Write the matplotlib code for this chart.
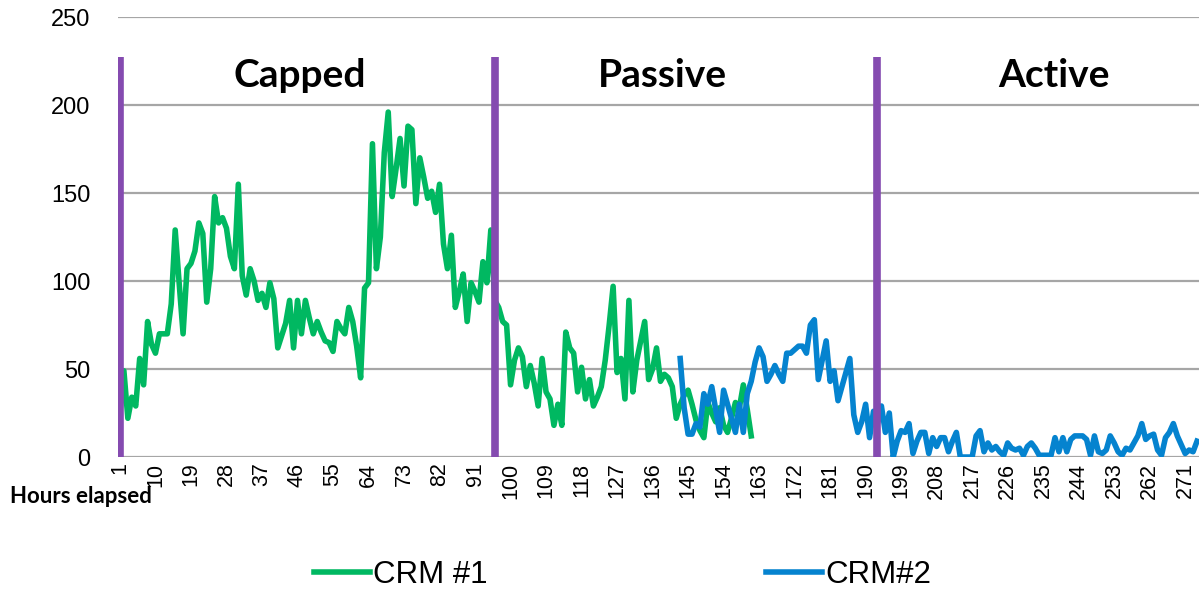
import numpy as np
import matplotlib.pyplot as plt
from matplotlib.lines import Line2D

# hours 1..161
crm1 = [25, 49, 22, 34, 29, 56, 41, 77, 64, 59, 70, 70, 70, 87, 129, 99, 70, 107, 110, 117,
        133, 127, 88, 107, 148, 133, 136, 130, 114, 107, 155, 103, 92, 107, 100, 89, 93, 85, 99, 90,
        62, 69, 76, 89, 62, 89, 70, 89, 79, 70, 77, 71, 66, 65, 60, 77, 73, 70, 85, 77,
        63, 45, 96, 99, 178, 107, 125, 173, 196, 148, 164, 181, 154, 188, 186, 144, 170, 159, 147, 151,
        139, 155, 121, 107, 126, 85, 94, 104, 77, 99, 94, 88, 111, 99, 129, 89, 85, 77, 75, 41,
        55, 62, 57, 40, 52, 42, 29, 56, 37, 33, 18, 30, 18, 71, 62, 59, 37, 51, 33, 44,
        29, 34, 40, 55, 75, 97, 48, 56, 33, 89, 37, 55, 66, 77, 44, 50, 62, 43, 47, 45,
        40, 22, 30, 35, 38, 30, 21, 15, 11, 31, 25, 20, 28, 18, 14, 22, 31, 28, 41, 27,
        12]

# hours 143..274
crm2_start = 143
crm2 = [56, 28, 13, 13, 19, 17, 36, 30, 40, 27, 14, 38, 30, 22, 14, 30, 14, 36, 43, 54,
        62, 57, 43, 47, 52, 47, 43, 59, 59, 61, 63, 63, 59, 75, 78, 44, 55, 66, 43, 49,
        32, 40, 48, 56, 24, 14, 20, 30, 11, 26, 19, 29, 14, 25, 0, 9, 15, 14, 19, 2,
        9, 14, 14, 2, 11, 6, 11, 11, 3, 9, 14, 0, 0, 0, 0, 12, 15, 3, 8, 4,
        6, 3, 1, 8, 5, 4, 5, 1, 6, 8, 5, 1, 1, 1, 1, 11, 3, 11, 3, 10,
        12, 12, 12, 10, 1, 12, 3, 2, 4, 12, 8, 3, 1, 5, 4, 8, 12, 19, 10, 12,
        13, 4, 1, 11, 14, 19, 12, 7, 2, 4, 3, 9]

n_hours = 274
phase_starts = [1, 96, 193]
phase_names = ["Capped", "Passive", "Active"]
phase_label_x = [46.6, 138.5, 237.7]

green = "#00B861"
blue = "#0583CF"
purple = "#854BB0"
grid_c = "#A6A6A6"

fig = plt.figure(figsize=(11.99, 5.93), dpi=100)
ax = fig.add_axes([0.0984, 0.2293, 0.9016, 0.742])

for y in [0, 50, 100, 150, 200, 250]:
    ax.axhline(y, color=grid_c, linewidth=1.6, zorder=1)

x1 = np.arange(1, len(crm1) + 1)
x2 = np.arange(crm2_start, crm2_start + len(crm2))
ax.plot(x1, crm1, color=green, linewidth=4, solid_joinstyle="round", zorder=3)
ax.plot(x2, crm2, color=blue, linewidth=4, solid_joinstyle="round", zorder=4)

ax.vlines(phase_starts, -1.5, 227, color=purple, linewidth=5.5, zorder=5)

for name, xp in zip(phase_names, phase_label_x):
    ax.text(xp, 217, name, ha="center", va="center", fontsize=28,
            fontweight="bold", family="Lato")

ax.set_xlim(0.5, n_hours + 0.5)
ax.set_ylim(0, 250)
ax.set_yticks([0, 50, 100, 150, 200, 250])
xt = np.arange(1, n_hours + 1, 9)
ax.set_xticks(xt)
ax.set_xticklabels([str(v) for v in xt], rotation=90, family="Liberation Sans", fontsize=15.5)
for lab in ax.get_yticklabels():
    lab.set_family("Liberation Sans")
    lab.set_fontsize(17)
ax.tick_params(axis="y", length=0, pad=20)
ax.tick_params(axis="x", length=0, pad=4)
for s in ax.spines.values():
    s.set_visible(False)

fig.text(0.008, 0.163, "Hours elapsed", fontsize=16, fontweight="bold", family="Lato",
         ha="left", va="center")

handles = [Line2D([], [], color=green, linewidth=4), Line2D([], [], color=blue, linewidth=4)]
fig.legend(handles, ["CRM #1", "CRM#2"], loc="center", bbox_to_anchor=(0.519, 0.03),
           ncol=2, frameon=False, prop={"family": "Liberation Sans", "size": 22.5},
           handlelength=1.8, handletextpad=0.1, columnspacing=8.9)

fig.savefig("out.png", dpi=100)
